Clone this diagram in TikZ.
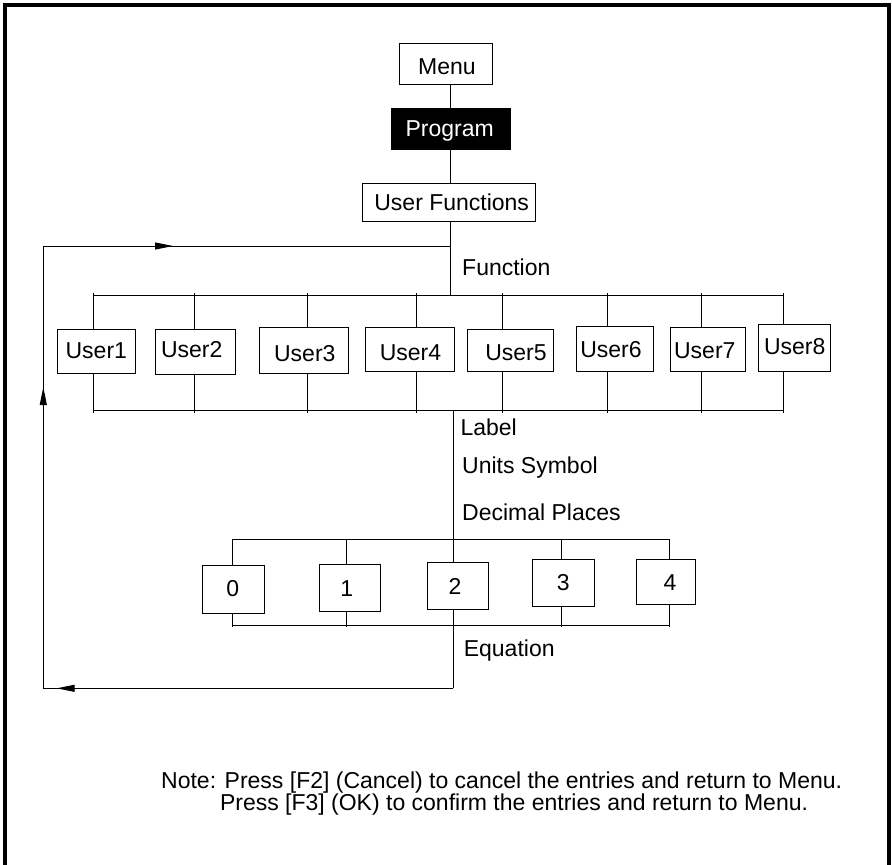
\documentclass[tikz,border=0pt]{standalone}
\usepackage{fontspec}
\setmainfont{Liberation Sans}
\usetikzlibrary{arrows.meta}
\begin{document}
\begin{tikzpicture}[x=1pt,y=-1pt,line width=1pt,
  txt/.style={inner sep=0pt,font=\fontsize{23}{27}\selectfont},
  bx/.style={draw,line width=1pt,inner sep=0pt,fill=white},
  tip/.style={-{Triangle[length=18pt,width=7pt]}}]
\useasboundingbox (0,0) rectangle (892,865);
\fill[white] (0,0) rectangle (892,865);
\draw[line width=3.6pt] (5,865) -- (5,5) -- (888.7,5) -- (888.7,865);

% top chain boxes
\node[bx,minimum width=93.4pt,minimum height=41pt] (menu) at (446,63.8) {};
\node[bx,fill=black,minimum width=119pt,minimum height=41.4pt] (prog) at (450.5,129) {};
\node[bx,minimum width=173.4pt,minimum height=38pt] (uf) at (449,202.3) {};
\node[txt,anchor=base] (menut) at (447,74.3) {Menu};
\node[txt,anchor=base,text=white] (progt) at (449.7,136.7) {Program};
\node[txt,anchor=base] (uft) at (451.7,210) {User Functions};

\coordinate (mv) at (450.3,0);
\coordinate (fbTR) at (450.3,246);
\coordinate (tbJ) at (450.3,295);
\draw (menu.south -| mv) -- (prog.north -| mv);
\draw (prog.south -| mv) -- (uf.north -| mv);
\draw (uf.south -| mv) -- (tbJ);

\node[txt,anchor=base west] (function) at (461.7,275.3) {Function};

% user boxes
\node[bx,minimum width=78pt,minimum height=44.3pt] (u1) at (96.3,351.2) {};
\node[bx,minimum width=80pt,minimum height=45.3pt] (u2) at (195.3,351.7) {};
\node[bx,minimum width=89pt,minimum height=46pt] (u3) at (303.8,350.3) {};
\node[bx,minimum width=88.3pt,minimum height=44pt] (u4) at (409.9,349.3) {};
\node[bx,minimum width=86.4pt,minimum height=42.3pt] (u5) at (510.5,350.2) {};
\node[bx,minimum width=76.7pt,minimum height=45.3pt] (u6) at (614.7,348.7) {};
\node[bx,minimum width=75pt,minimum height=44pt] (u7) at (707.8,349.3) {};
\node[bx,minimum width=71.6pt,minimum height=47pt] (u8) at (794.5,347.8) {};
\node[txt,anchor=base] (u1t) at (96.3,358.3) {User1};
\node[txt,anchor=base] (u2t) at (191.7,357.7) {User2};
\node[txt,anchor=base] (u3t) at (304.8,361) {User3};
\node[txt,anchor=base] (u4t) at (410.5,360) {User4};
\node[txt,anchor=base] (u5t) at (516,360.7) {User5};
\node[txt,anchor=base] (u6t) at (611,357.7) {User6};
\node[txt,anchor=base] (u7t) at (704.8,358.3) {User7};
\node[txt,anchor=base] (u8t) at (794.7,354) {User8};

% user buses
\coordinate (tb1) at (93.3,295);  \coordinate (bb1) at (93.3,410.5);
\coordinate (tb2) at (194.3,295); \coordinate (bb2) at (194.3,410.5);
\coordinate (tb3) at (307,295);   \coordinate (bb3) at (307,410.5);
\coordinate (tb4) at (416.3,295); \coordinate (bb4) at (416.3,410.5);
\coordinate (tb5) at (502.3,295); \coordinate (bb5) at (502.3,410.5);
\coordinate (tb6) at (607.3,295); \coordinate (bb6) at (607.3,410.5);
\coordinate (tb7) at (701.3,295); \coordinate (bb7) at (701.3,410.5);
\coordinate (tb8) at (783.3,295); \coordinate (bb8) at (783.3,410.5);
\draw (tb1) -- (tb8);
\draw (bb1) -- (bb8);
\foreach \i in {1,...,8}{
  \draw ([yshift=2pt]tb\i) -- (tb\i |- u\i.north);
  \draw (bb\i |- u\i.south) -- ([yshift=-2pt]bb\i);
}

% labels
\coordinate (lv1) at (453.3,410.5);
\node[txt,anchor=base west] (label) at (460,435.7) {Label};
\node[txt,anchor=base west] (units) at (461.7,473.3) {Units Symbol};
\node[txt,anchor=base west] (decimal) at (461.7,520) {Decimal Places};
\node[txt,anchor=base west] (equation) at (463.3,656.7) {Equation};

% digit boxes
\node[bx,minimum width=61.6pt,minimum height=47.7pt] (d0) at (233.5,589.2) {};
\node[bx,minimum width=61pt,minimum height=46.7pt] (d1) at (349.8,587.7) {};
\node[bx,minimum width=61.4pt,minimum height=47pt] (d2) at (458,585.8) {};
\node[bx,minimum width=62pt,minimum height=47pt] (d3) at (563.3,582.8) {};
\node[bx,minimum width=58.8pt,minimum height=45.2pt] (d4) at (666.1,581.9) {};
\node[txt,anchor=base] (d0t) at (232.7,596) {0};
\node[txt,anchor=base] (d1t) at (346.7,596) {1};
\node[txt,anchor=base] (d2t) at (455,594) {2};
\node[txt,anchor=base] (d3t) at (563.3,590) {3};
\node[txt,anchor=base] (d4t) at (670,590) {4};

\coordinate (dt0) at (232.3,539.5); \coordinate (db0) at (232.3,625);
\coordinate (dt1) at (346.7,539.5); \coordinate (db1) at (346.7,625);
\coordinate (dt2) at (453.3,539.5); \coordinate (db2) at (453.3,625);
\coordinate (dt3) at (561.3,539.5); \coordinate (db3) at (561.3,625);
\coordinate (dt4) at (669.5,539.5); \coordinate (db4) at (669.5,625);
\draw (dt0) -- (dt4);
\draw (db0) -- (db4);
\foreach \i in {0,1,3,4}{
  \draw (dt\i) -- (dt\i |- d\i.north);
  \draw (db\i |- d\i.south) -- ([yshift=-2pt]db\i);
}
\draw (lv1) -- (dt2) -- (dt2 |- d2.north);

% feedback loop
\coordinate (fbR) at (453.3,688.3);
\coordinate (fbBL) at (43.3,688.3);
\coordinate (fbTL) at (43.3,246);
\coordinate (a1) at (173,246);
\coordinate (a2) at (43.3,387);
\coordinate (a3) at (56.7,688.3);
\draw (db2 |- d2.south) -- (fbR);
\draw (fbR) -- (fbBL) -- (fbTL) -- (fbTR);
\draw[tip] (fbR) -- (a3);
\draw[tip] (fbBL) -- (a2);
\draw[tip] (fbTL) -- (a1);

% note
\node[txt,anchor=base west] (note1) at (160.7,788) {Note: Press [F2] (Cancel) to cancel the entries and return to Menu.};
\node[txt,anchor=base west] (note2) at (219.5,810.7) {Press [F3] (OK) to confirm the entries and return to Menu.};
\end{tikzpicture}
\end{document}
